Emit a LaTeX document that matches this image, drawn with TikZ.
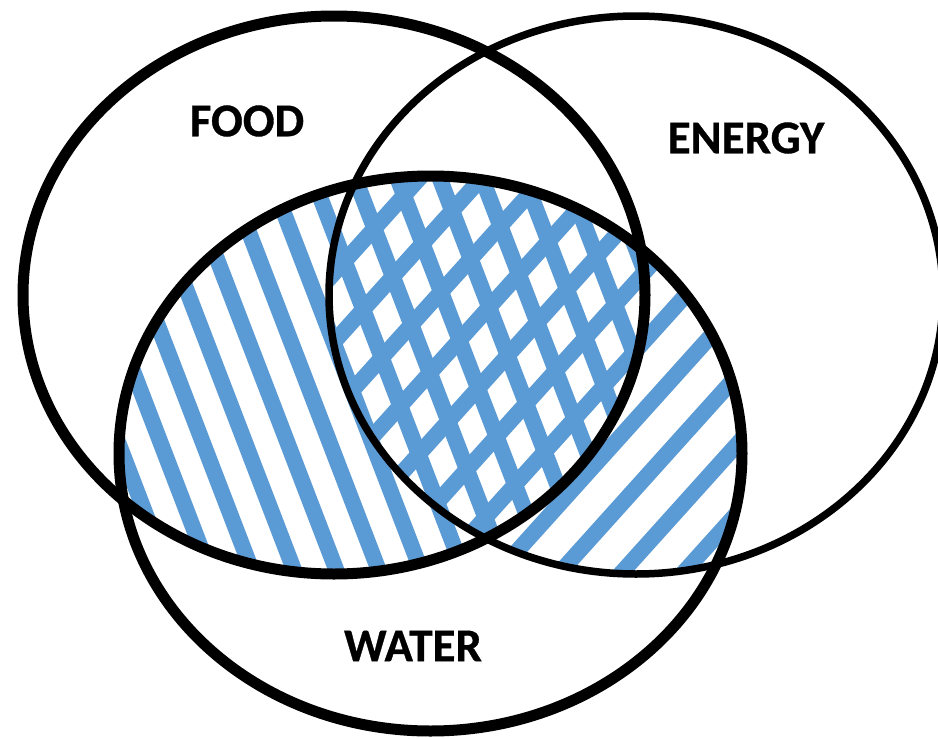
\documentclass[tikz,border=0pt]{standalone}
\usepackage{fontspec}
\setmainfont{Carlito}
\newfontfamily\lblfont{Carlito Bold}[FakeBold=0.7]
\usepackage{xcolor}
\usepackage{tikz}
\usetikzlibrary{positioning}
\definecolor{hatchblue}{RGB}{91,155,213}
\newcommand{\foodpath}{(334,295) ellipse [x radius=311, y radius=279]}
\newcommand{\energypath}{(636,295) ellipse [x radius=307, y radius=279]}
\newcommand{\waterpath}{(430.5,453.5) ellipse [x radius=311.5, y radius=277.5]}

\begin{document}
\begin{tikzpicture}[
    x=1pt, y=-1pt,
    ring/.style={draw=black, line width=11pt},
    thinring/.style={draw=black, line width=7.5pt},
    hatch/.style={draw=hatchblue, line width=16pt},
    lbl/.style={font=\fontsize{47}{47}\selectfont\lblfont, inner sep=0pt}
  ]
  \useasboundingbox[fill=white] (0,0) rectangle (938,739);
  % food and water: steep strokes
  \begin{scope}
    \clip \foodpath;
    \clip \waterpath;
    \foreach \k in {-1,...,14} {
      \pgfmathsetmacro{\xk}{(-48+39.5*\k+162.2)/0.934}
      \draw[hatch] (\xk,453) ++(-111:420) -- ++(69:840);
    }
  \end{scope}
  % energy and water: slanted strokes
  \begin{scope}
    \clip \energypath;
    \clip \waterpath;
    \foreach \k in {-3,...,12} {
      \pgfmathsetmacro{\xk}{(431+46*\k-303.1)/0.743}
      \draw[hatch] (\xk,453) ++(132:420) -- ++(-48:840);
    }
  \end{scope}
  \draw[thinring] \energypath;
  \draw[ring] \foodpath;
  \draw[ring] \waterpath;
  \node[lbl] (food) at (247,121) {FOOD};
  \node[lbl] (energy) at (746,138) {ENERGY};
  \node[lbl] (water) at (413,646) {WATER};
\end{tikzpicture}
\end{document}
